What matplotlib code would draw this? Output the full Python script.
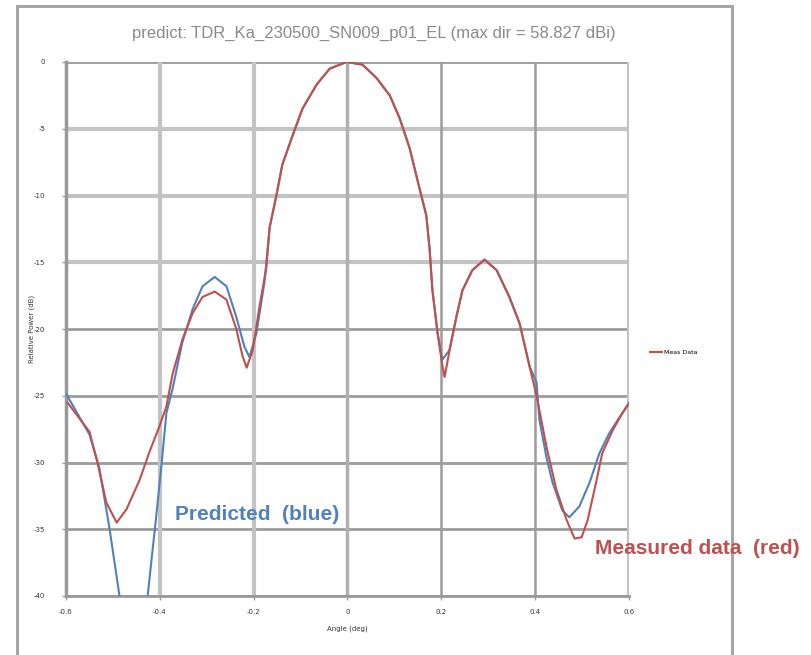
import matplotlib
matplotlib.use("Agg")
import matplotlib.pyplot as plt
from matplotlib.lines import Line2D

# predicted pattern (blue)
pred_x = [-0.599, -0.550, -0.529, -0.507, -0.486, -0.452, -0.426, -0.407, -0.396, -0.386,
          -0.373, -0.352, -0.330, -0.309, -0.283, -0.258, -0.237, -0.220, -0.209, -0.194,
          -0.177, -0.166, -0.151, -0.139, -0.117, -0.096, -0.066, -0.038, -0.002, 0.032,
          0.062, 0.090, 0.111, 0.132, 0.153, 0.168, 0.175, 0.181, 0.192, 0.202,
          0.217, 0.232, 0.245, 0.266, 0.292, 0.318, 0.345, 0.367, 0.388, 0.403,
          0.409, 0.424, 0.437, 0.458, 0.473, 0.494, 0.516, 0.537, 0.558, 0.580, 0.599]
pred_db = [-24.9, -27.9, -30.4, -35.0, -40.0, -48.0, -40.0, -33.8, -30.0, -26.3,
           -24.5, -21.0, -18.5, -16.8, -16.1, -16.8, -19.1, -21.3, -22.1, -20.3,
           -16.5, -12.4, -9.9, -7.7, -5.5, -3.5, -1.7, -0.5, 0.0, -0.2,
           -1.2, -2.5, -4.2, -6.4, -9.4, -11.5, -14.0, -17.1, -20.3, -22.3,
           -21.6, -19.1, -17.1, -15.6, -14.8, -15.6, -17.6, -19.6, -22.8, -24.0,
           -26.8, -29.6, -31.5, -33.6, -34.1, -33.3, -31.5, -29.3, -27.8, -26.6, -25.6]

# measured data (red)
meas_x = [-0.597, -0.550, -0.533, -0.514, -0.492, -0.471, -0.443, -0.422, -0.401, -0.386,
          -0.373, -0.352, -0.330, -0.309, -0.283, -0.258, -0.237, -0.224, -0.215, -0.202,
          -0.188, -0.173, -0.166, -0.151, -0.139, -0.117, -0.096, -0.066, -0.038, -0.002,
          0.032, 0.062, 0.090, 0.111, 0.132, 0.153, 0.168, 0.175, 0.181, 0.192,
          0.202, 0.207, 0.217, 0.232, 0.245, 0.266, 0.292, 0.318, 0.345, 0.367,
          0.388, 0.403, 0.424, 0.445, 0.467, 0.484, 0.499, 0.512, 0.531, 0.543,
          0.565, 0.586, 0.601]
meas_db = [-25.5, -27.7, -30.0, -33.0, -34.5, -33.5, -31.3, -29.2, -27.3, -25.8,
           -23.4, -20.8, -18.8, -17.6, -17.2, -17.8, -20.0, -22.0, -22.9, -21.6,
           -18.4, -15.4, -12.4, -9.9, -7.7, -5.5, -3.5, -1.7, -0.5, 0.0,
           -0.2, -1.2, -2.5, -4.2, -6.4, -9.4, -11.5, -14.0, -17.1, -20.3,
           -22.7, -23.6, -21.7, -19.1, -17.1, -15.6, -14.8, -15.6, -17.6, -19.6,
           -22.8, -25.0, -28.8, -32.0, -34.3, -35.7, -35.6, -34.3, -31.3, -29.3,
           -27.6, -26.3, -25.5]

x_ticks = [-0.6, -0.4, -0.2, 0.0, 0.2, 0.4, 0.6]
x_tick_labels = ["-0.6", "-0.4", "-0.2", "0", "0.2", "0.4", "0.6"]
y_ticks = [0, -5, -10, -15, -20, -25, -30, -35, -40]
y_tick_labels = ["0", "-5", "-10", "-15", "-20", "-25", "-30", "-35", "-40"]

W, H = 812, 655
fig = plt.figure(figsize=(W / 100, H / 100), dpi=100)
ax = fig.add_axes([66 / W, 1 - 596 / H, (629 - 66) / W, (596 - 62) / H])

# grid lines, mixed weights like the exported image
light = "#c3c3c3"
dark = "#9c9c9c"
for y in y_ticks:
    if y in (-5, -10, -15):
        ax.axhline(y, color=light, lw=3.0, zorder=1)
    else:
        ax.axhline(y, color=dark, lw=2.0, zorder=1)
for x in x_ticks:
    if x in (-0.4, -0.2, 0.6):
        ax.axvline(x, color=light, lw=3.0, zorder=1)
    elif x == 0.0:
        ax.axvline(x, color="#b0b0b0", lw=2.5, zorder=1)
    else:
        ax.axvline(x, color=dark, lw=1.8, zorder=1)

ax.plot(pred_x, pred_db, color="#4f81bd", lw=1.5, zorder=3)
ax.plot(meas_x, meas_db, color="#c0504d", lw=1.5, zorder=4, label="Meas Data")

ax.set_xlim(-0.6, 0.6)
ax.set_ylim(-40, 0)
ax.set_xticks(x_ticks)
ax.set_xticklabels(x_tick_labels)
ax.set_yticks(y_ticks)
ax.set_yticklabels(y_tick_labels)
ax.tick_params(axis="both", labelsize=5, colors="#9c9c9c", labelcolor="#333333", length=3, width=1)
ax.tick_params(axis="y", pad=12)
ax.tick_params(axis="x", pad=6)
for side in ("top", "right"):
    ax.spines[side].set_visible(False)
ax.spines["left"].set_color("#999999")
ax.spines["left"].set_linewidth(2.5)
ax.spines["bottom"].set_color("#999999")
ax.spines["bottom"].set_linewidth(2.0)

ax.set_xlabel("Angle (deg)", fontsize=5, color="#333333", labelpad=8)
ax.set_ylabel("Relative Power (dB)", fontsize=5, color="#333333")
ax.yaxis.set_label_coords(-0.055, 0.5)

fig.text(374 / W, 1 - 33 / H, "predict: TDR_Ka_230500_SN009_p01_EL (max dir = 58.827 dBi)",
         ha="center", va="center", fontsize=12, color="#8a8a8a", family="Liberation Sans")

fig.legend(loc="center left", bbox_to_anchor=(648 / W, 1 - 352 / H), frameon=False,
           fontsize=4.5, handlelength=1.8, handletextpad=0.4, borderaxespad=0)

# outer chart frame (left, top, right)
frame = dict(color="#a6a6a6", lw=2.2, transform=fig.transFigure)
fig.add_artist(Line2D([17 / W, 17 / W], [0, 1 - 6 / H], **frame))
fig.add_artist(Line2D([17 / W, 732 / W], [1 - 6 / H, 1 - 6 / H], **frame))
fig.add_artist(Line2D([732 / W, 732 / W], [0, 1 - 6 / H], **frame))

fig.text(175 / W, 1 - 515 / H, "Predicted  (blue)", ha="left", va="center",
         fontsize=15, fontweight="bold", color="#4f81bd", family="Liberation Sans")
fig.text(595 / W, 1 - 549 / H, "Measured data  (red)", ha="left", va="center",
         fontsize=15, fontweight="bold", color="#c0504d", family="Liberation Sans")

fig.savefig("out.png", dpi=100)
